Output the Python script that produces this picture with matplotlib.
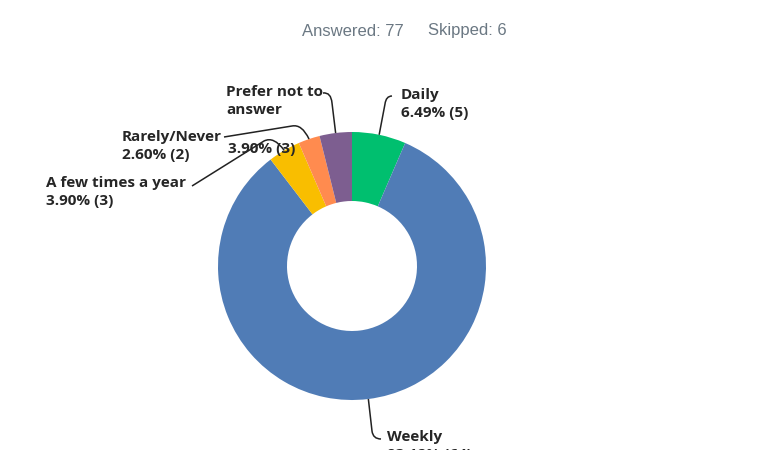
import matplotlib
matplotlib.use('Agg')
import matplotlib.pyplot as plt
from matplotlib.path import Path
from matplotlib.patches import PathPatch
import numpy as np

# data
categories = ['Daily', 'Weekly', 'A few times a year', 'Rarely/Never', 'Prefer not to answer']
counts = [5, 64, 3, 2, 3]
colors = ['#00bf6f', '#507cb6', '#f9be00', '#ff8b4f', '#7d5e90']
answered = 77
skipped = 6

W, H = 766, 450
cx, cy = 352, H - 266
r_out = 134
r_in = 65

fig = plt.figure(figsize=(W / 100, H / 100), dpi=100)
ax = fig.add_axes([0, 0, 1, 1])

ax.pie(counts, colors=colors, startangle=90, counterclock=False,
       radius=r_out, center=(cx, cy),
       wedgeprops=dict(width=r_out - r_in, linewidth=0))
ax.set_xlim(0, W)
ax.set_ylim(0, H)
ax.set_aspect('equal')
ax.axis('off')

ax.text(302, H - 31, f'Answered: {answered}', ha='left', va='center',
        fontsize=12, color='#6b7883', family='Liberation Sans')
ax.text(428, H - 31, f'Skipped: {skipped}', ha='left', va='center',
        fontsize=12, color='#6b7883', family='Liberation Sans')

# mid angle of each slice on the outer edge
total = sum(counts)
bounds = 90 - 360 * np.cumsum([0] + counts) / total
mids = (bounds[:-1] + bounds[1:]) / 2
edge = [(cx + r_out * np.cos(np.radians(a)), H - (cy + r_out * np.sin(np.radians(a)))) for a in mids]

pct = [f'{100 * c / total:.2f}% ({c})' for c in counts]
lab_font = dict(fontsize=11, color='#262626', family='Open Sans', weight='bold',
                va='top', ha='left', linespacing=1.4)

# label text: (text, x, y_top) in pixels from top
labels = [
    (f'Daily\n{pct[0]}', 401, 88),
    (f'Weekly\n{pct[1]}', 387, 430),
    (f'A few times a year\n{pct[2]}', 46, 176),
    (f'Rarely/Never\n{pct[3]}', 122, 130),
    ('Prefer not to\nanswer', 226, 85),
]
for txt, x, y in labels:
    ax.text(x, H - y, txt, **lab_font)
ax.text(228, H - 142, pct[4], **lab_font)

# connectors in pixel coords from top, ending on the slice edge
M, L, C = Path.MOVETO, Path.LINETO, Path.CURVE3
conn = [
    ([(392, 96), (386, 96), (385, 104)], [M, C, C, L]),   # Daily
    ([(381, 439), (373, 439), (372, 431)], [M, C, C, L]),  # Weekly
    ([(192, 186), (264, 141), (274, 136)], [M, L, C, C]),  # A few times a year
    ([(224, 137), (292, 126), (302, 124)], [M, L, C, C]),  # Rarely/Never
    ([(323, 93), (331, 92), (332, 103)], [M, C, C, L]),    # Prefer not to answer
]
for i, (pts, codes) in enumerate(conn):
    verts = [(x, H - y) for x, y in pts + [edge[i]]]
    ax.add_patch(PathPatch(Path(verts, codes), fill=False, edgecolor='#222222', lw=1.1))

plt.savefig('out.png', dpi=100)
